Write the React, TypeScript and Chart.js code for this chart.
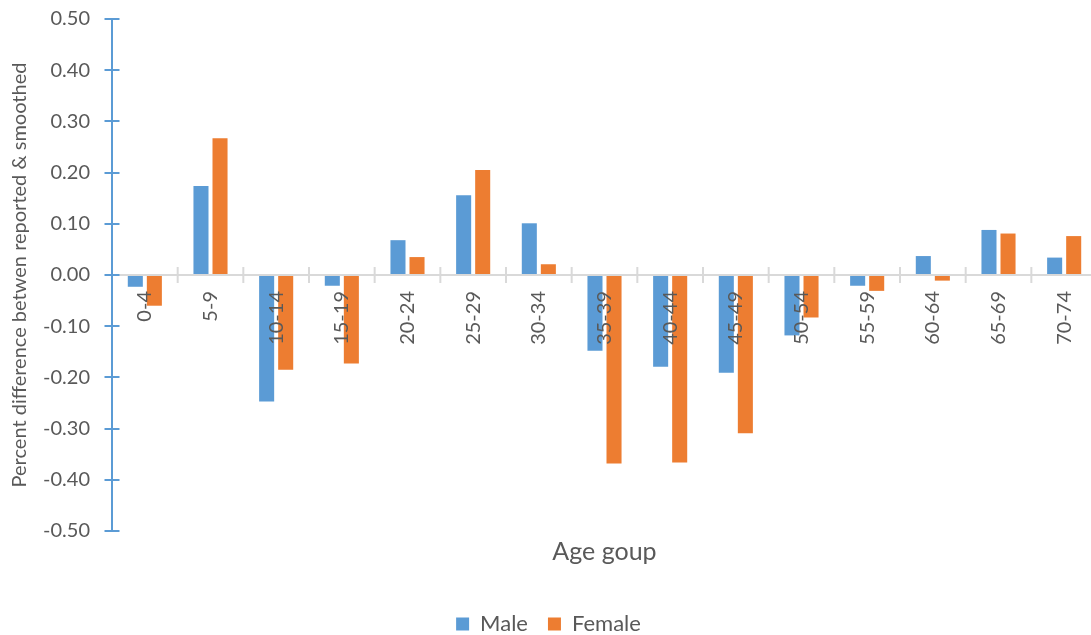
import React, { useEffect, useRef } from "react";
import { Chart, registerables } from "chart.js";

Chart.register(...registerables);

const categories = ["0-4", "5-9", "10-14", "15-19", "20-24", "25-29", "30-34", "35-39", "40-44", "45-49", "50-54", "55-59", "60-64", "65-69", "70-74"];
const maleValues = [-0.023, 0.174, -0.247, -0.021, 0.068, 0.156, 0.101, -0.148, -0.179, -0.191, -0.118, -0.021, 0.037, 0.088, 0.034];
const femaleValues = [-0.060, 0.267, -0.185, -0.173, 0.035, 0.205, 0.021, -0.368, -0.366, -0.309, -0.083, -0.031, -0.011, 0.081, 0.076];
const yMin = -0.5;
const yMax = 0.5;
const yStep = 0.1;
const yTitle = "Percent difference betwen reported & smoothed";
const xTitle = "Age goup";

const FONT = "Lato, 'Open Sans', sans-serif";
const TEXT = "#595959";

const tickMarks = {
  id: "tickMarks",
  afterDraw(chart: any) {
    const { ctx, scales } = chart;
    const x = scales.x;
    const y = scales.y;
    ctx.save();
    ctx.strokeStyle = "#5B9BD5";
    ctx.lineWidth = 2;
    const ax = chart.chartArea.left;
    y.ticks.forEach((_t: any, i: number) => {
      const py = Math.round(y.getPixelForTick(i));
      ctx.beginPath();
      ctx.moveTo(ax - 7.5, py);
      ctx.lineTo(ax + 7.5, py);
      ctx.stroke();
    });
    ctx.strokeStyle = "#D9D9D9";
    ctx.lineWidth = 2;
    const y0 = y.getPixelForValue(0);
    const n = categories.length;
    for (let i = 1; i <= n; i++) {
      const px = x.left + ((x.right - x.left) * i) / n;
      ctx.beginPath();
      ctx.moveTo(px, y0 - 8);
      ctx.lineTo(px, y0 + 8);
      ctx.stroke();
    }
    ctx.restore();
  },
};

export default function App() {
  const ref = useRef<HTMLCanvasElement | null>(null);
  useEffect(() => {
    if (!ref.current) return;
    const chart = new Chart(ref.current, {
      type: "bar",
      data: {
        labels: categories,
        datasets: [
          { label: "Male", data: maleValues, backgroundColor: "#5B9BD5", borderWidth: 0 },
          { label: "Female", data: femaleValues, backgroundColor: "#ED7D31", borderWidth: 0 },
        ],
      },
      options: {
        responsive: false,
        animation: false,
        devicePixelRatio: 1,
        layout: { padding: { top: 19, right: 9, left: 0, bottom: 0 } },
        datasets: { bar: { categoryPercentage: 0.58, barPercentage: 0.79 } },
        scales: {
          x: {
            position: { y: 0 } as any,
            grid: { display: false, drawTicks: false },
            border: { display: true, color: "#D9D9D9", width: 2, z: 1 } as any,
            ticks: {
              z: 1,
              minRotation: 90,
              maxRotation: 90,
              autoSkip: false,
              padding: 16,
              color: TEXT,
              font: { family: FONT, size: 20 },
            } as any,
          },
          y: {
            min: yMin,
            max: yMax,
            grid: { display: false, drawTicks: false },
            border: { display: true, color: "#5B9BD5", width: 2 },
            ticks: {
              stepSize: yStep,
              padding: 22,
              color: TEXT,
              font: { family: FONT, size: 20 },
              callback: (v: any) => Number(v).toFixed(2),
            },
            title: {
              display: true,
              text: yTitle,
              color: TEXT,
              font: { family: FONT, size: 20 },
              padding: { top: 8, bottom: 0 },
            },
            afterFit: (scale: any) => {
              scale.width = 112;
              scale.paddingTop = 10;
              scale.paddingBottom = 10;
            },
          },
        },
        plugins: {
          legend: {
            position: "bottom",
            labels: {
              boxWidth: 13,
              boxHeight: 13,
              padding: 20,
              color: TEXT,
              font: { family: FONT, size: 22 },
            },
          },
          title: {
            display: true,
            position: "bottom",
            text: xTitle,
            fullSize: false,
            weight: 500,
            color: TEXT,
            font: { family: FONT, size: 25, weight: "normal" },
            padding: { top: 6, bottom: 26 },
          },
          tooltip: { enabled: false },
        },
      },
      plugins: [tickMarks],
    });
    return () => chart.destroy();
  }, []);
  return (
    <div style={{ position: "fixed", left: 0, top: 0, width: 1091, height: 635, overflow: "hidden", background: "#fff" }}>
      <canvas ref={ref} width={1106} height={645} style={{ display: "block" }} />
    </div>
  );
}
